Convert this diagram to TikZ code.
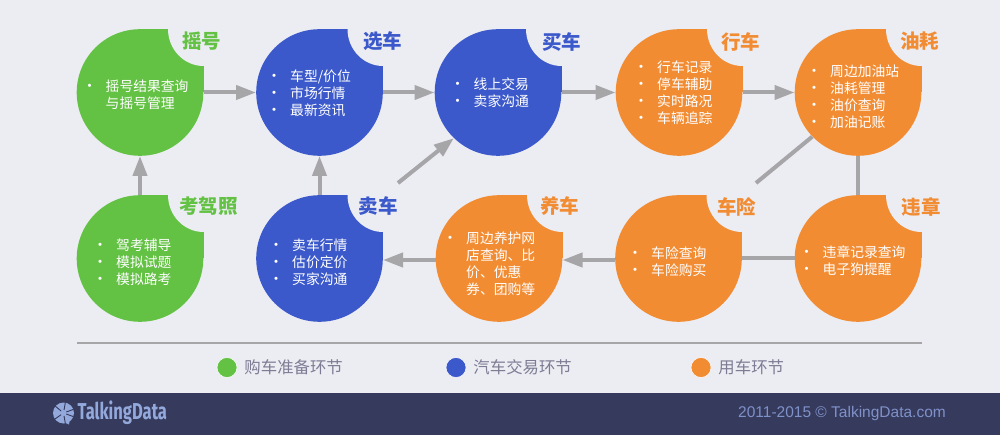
\documentclass[tikz,border=0pt]{standalone}
\usepackage{fontspec}
\setmainfont{Noto Sans CJK SC}
\newfontfamily\latinfont{Liberation Sans}
\newfontfamily\logofont{Fira Sans}
\usetikzlibrary{arrows.meta}
\definecolor{pagebg}{HTML}{ECECF3}
\definecolor{bandbg}{HTML}{363A5C}
\definecolor{linegray}{HTML}{A6A6A8}
\definecolor{buygreen}{HTML}{63C244}
\definecolor{tradeblue}{HTML}{3B59CB}
\definecolor{useorange}{HTML}{F28C33}
\definecolor{legendtext}{HTML}{7C7C94}
\definecolor{logoblue}{HTML}{93A9DC}
\definecolor{copyblue}{HTML}{7F91C9}
\setlength{\lineskiplimit}{-30pt}
\newcommand{\bl}[1]{\makebox[18pt][l]{\makebox[4pt]{\fontsize{15}{8}\selectfont\textbullet}}#1}
\newcommand{\nb}[1]{\hspace*{18pt}#1}
\begin{document}
\begin{tikzpicture}[
        x=1pt, y=-1pt,
        bubble/.style={circle, fill=#1, minimum size=126.6pt, inner sep=0pt},
        title/.style={text=#1, font=\fontsize{19.5}{22}\selectfont\bfseries, inner sep=0pt},
        items/.style={anchor=west, align=left, text=white, inner sep=0pt, font=\fontsize{13.8}{17}\selectfont},
        flow/.style={draw=linegray, line width=4pt, -{Triangle[length=20pt,width=14pt]}},
        link/.style={draw=linegray, line width=4pt},
        dot/.style={circle, fill=#1, draw=white, line width=0.5pt, minimum size=20pt, inner sep=0pt},
        legend/.style={anchor=west, text=legendtext, inner sep=0pt, font=\fontsize{16.4}{20}\selectfont}
    ]
    \useasboundingbox (0,0) rectangle (1000,435);
    \fill[pagebg] (0,0) rectangle (1000,435);
    \fill[bandbg] (0,393) rectangle (1000,435);

    % bubbles
    \node[bubble=buygreen] (yaohao) at (140,92.5) {};
    \node[bubble=tradeblue] (xuanche) at (319.5,92.5) {};
    \node[bubble=tradeblue] (maiche) at (498,92.5) {};
    \node[bubble=useorange] (xingche) at (679,92.5) {};
    \node[bubble=useorange] (youhao) at (858,92.5) {};
    \node[bubble=buygreen] (kaojia) at (140,258.5) {};
    \node[bubble=tradeblue] (maichu) at (319.5,258.5) {};
    \node[bubble=useorange] (yangche) at (499,258.5) {};
    \node[bubble=useorange] (chexian) at (678.5,258.5) {};
    \node[bubble=useorange] (weizhang) at (858,258.5) {};
    \foreach \n/\c in {yaohao/buygreen, xuanche/tradeblue, maiche/tradeblue, xingche/useorange, youhao/useorange,
                       kaojia/buygreen, maichu/tradeblue, yangche/useorange, chexian/useorange, weizhang/useorange} {
        \fill[\c] (\n.center) rectangle (\n.north -| \n.east);
        \fill[pagebg] (\n.north -| \n.east) circle[x radius=35.5pt, y radius=37pt];
    }

    % connectors
    \draw[flow] (yaohao.east) -- (xuanche.west);
    \draw[flow] (xuanche.east) -- (maiche.west);
    \draw[flow] (maiche.east) -- (xingche.west);
    \draw[flow] (xingche.east) -- (youhao.west);
    \draw[flow] (kaojia.north) -- (yaohao.south);
    \draw[flow] (maichu.north) -- (xuanche.south);
    \coordinate (maichufoot) at (398,183);
    \coordinate (youhaofoot) at (756,183);
    \draw[flow] (maichufoot) -- (maiche.226);
    \draw[link] (youhao.224) -- (youhaofoot);
    \draw[link] (youhao.south) -- (weizhang.north);
    \draw[link] (weizhang.west) -- (chexian.east);
    \draw[flow] ([yshift=-1.5pt]chexian.west) -- ([yshift=-1.5pt]yangche.east);
    \draw[flow] ([yshift=-1.5pt]yangche.west) -- ([yshift=-1.5pt]maichu.east);

    % titles
    \node[title=buygreen] (yaohaot) at (201.5,41.5) {摇号};
    \node[title=tradeblue] (xuanchet) at (382.5,41.5) {选车};
    \node[title=tradeblue] (maichet) at (561.5,41.5) {买车};
    \node[title=useorange] (xingchet) at (740.5,41.5) {行车};
    \node[title=useorange] (youhaot) at (919.5,41.5) {油耗};
    \node[title=buygreen] (kaojiat) at (208.5,206.5) {考驾照};
    \node[title=tradeblue] (maichut) at (378,206.5) {卖车};
    \node[title=useorange] (yangchet) at (559.5,206.5) {养车};
    \node[title=useorange] (chexiant) at (736.5,206.5) {车险};
    \node[title=useorange] (weizhangt) at (921,206.5) {违章};

    % lists
    \node[items] (yaohaol) at (87.5,94.5) {\bl{摇号结果查询}\\\nb{与摇号管理}};
    \node[items] (xuanchel) at (272,93.5) {\bl{车型/价位}\\\bl{市场行情}\\\bl{最新资讯}};
    \node[items] (maichel) at (455.5,92.5) {\bl{线上交易}\\\bl{卖家沟通}};
    \node[items] (xingchel) at (639,92.5) {\bl{行车记录}\\\bl{停车辅助}\\\bl{实时路况}\\\bl{车辆追踪}};
    \node[items] (youhaol) at (812,97) {\bl{周边加油站}\\\bl{油耗管理}\\\bl{油价查询}\\\bl{加油记账}};
    \node[items] (kaojial) at (98,262) {\bl{驾考辅导}\\\bl{模拟试题}\\\bl{模拟路考}};
    \node[items] (maichul) at (274,262) {\bl{卖车行情}\\\bl{估价定价}\\\bl{买家沟通}};
    \node[items] (yangchel) at (448,264) {\bl{周边养护网}\\\nb{店查询、比}\\\nb{价、优惠}\\\nb{券、团购等}};
    \node[items] (chexianl) at (633,261.5) {\bl{车险查询}\\\bl{车险购买}};
    \node[items] (weizhangl) at (804.5,260.5) {\bl{违章记录查询}\\\bl{电子狗提醒}};

    % legend
    \coordinate (ruleleft) at (77,343);
    \coordinate (ruleright) at (922,343);
    \draw[draw=linegray, line width=2.6pt] (ruleleft) -- (ruleright);
    \node[dot=buygreen] (dotbuy) at (227,367.5) {};
    \node[legend, right=7pt] (legbuy) at (dotbuy.east) {购车准备环节};
    \node[dot=tradeblue] (dottrade) at (456,367.5) {};
    \node[legend, right=7pt] (legtrade) at (dottrade.east) {汽车交易环节};
    \node[dot=useorange] (dotuse) at (701,367.5) {};
    \node[legend, right=7pt] (leguse) at (dotuse.east) {用车环节};

    % footer
    \node[circle, fill=logoblue, minimum size=21pt, inner sep=0pt] (logoicon) at (63.5,413) {};
    \fill[logoblue] (61,421) -- (69,424.5) -- (70,418) -- cycle;
    \foreach \a in {20,80,140,215,280,340} {
        \draw[bandbg, line width=0.9pt] (logoicon.center) ++(\a:3pt) -- (logoicon.\a);
    }
    \node[anchor=west, text=logoblue, inner sep=0pt, xscale=0.72, font=\logofont\fontsize{23}{26}\selectfont\bfseries] (logotext) at (77.5,413) {TalkingData};
    \node[anchor=east, text=copyblue, inner sep=0pt, font=\latinfont\fontsize{15.5}{18}\selectfont] (copyright) at (946,413) {2011-2015 © TalkingData.com};
\end{tikzpicture}
\end{document}
